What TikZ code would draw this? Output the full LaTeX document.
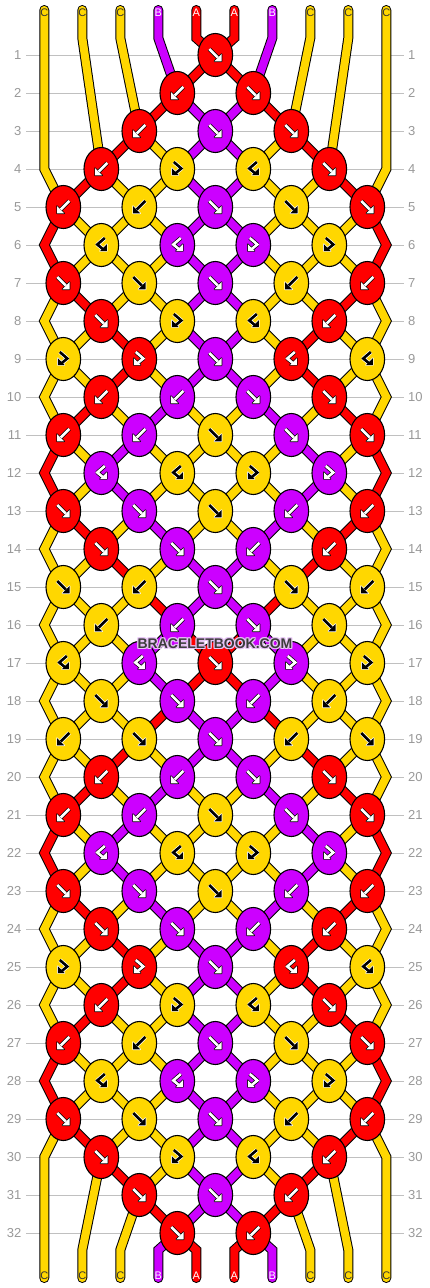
\documentclass[tikz,border=0pt]{standalone}
\usepackage{fontspec}
\setmainfont{Liberation Sans}
\definecolor{cY}{HTML}{FFD700}
\definecolor{cP}{HTML}{CC00FF}
\definecolor{cR}{HTML}{FF0000}
\definecolor{gridc}{HTML}{C0C0C0}
\definecolor{numc}{HTML}{999999}
\definecolor{labdark}{HTML}{333333}
\definecolor{wmark}{HTML}{3C3C3C}
\definecolor{whalo}{HTML}{E6C3F5}

\tikzset{
  strout/.style={draw=black, line width=10pt, line cap=round, line join=miter},
  strin/.style={line width=8pt, line cap=round, line join=miter},
  knotline/.style={draw=black, line width=1.1pt},
  gridline/.style={draw=gridc, line width=1pt},
  rownum/.style={text=numc, font=\fontsize{13}{13}\selectfont, inner sep=0pt},
  strlabel/.style={font=\fontsize{11}{11}\selectfont, inner sep=0pt},
  wm/.style={font=\bfseries\fontsize{14}{14}\selectfont, inner sep=0pt},
}

\newcommand\setsc[2]{\expandafter\gdef\csname sc#1\endcsname{#2}}
\newcommand\rowdef[2]{\expandafter\gdef\csname row#1\endcsname{#2}}
\newcommand\appendpt[3]{\expandafter\xdef\csname P#1\endcsname{\csname P#1\endcsname -- (#2,#3)}}

% type codes: 1 = forward, 2 = backward, 3 = forward-backward, 4 = backward-forward
\newcommand\doknot[3]{%
  \edef\idL{\csname at#2\endcsname}%
  \edef\idR{\csname at\the\numexpr#2+1\relax\endcsname}%
  \edef\kx{\fpeval{63.3+38*(#2-1)}}%
  \edef\ky{\fpeval{55+38*(#1-1)}}%
  \appendpt{\idL}{\kx}{\ky}%
  \appendpt{\idR}{\kx}{\ky}%
  \ifodd#3\relax
    \edef\kc{\csname sc\idL\endcsname}%
  \else
    \edef\kc{\csname sc\idR\endcsname}%
  \fi
  \xdef\knotlist{\unexpanded\expandafter{\knotlist}\noexpand\drawknot{\kx}{\ky}{\kc}{#3}}%
  \ifnum#3<3\relax
    \expandafter\xdef\csname at#2\endcsname{\idR}%
    \expandafter\xdef\csname at\the\numexpr#2+1\relax\endcsname{\idL}%
  \fi
}

\newcommand\knotglyph[3]{%
  \ifcase#1\relax\or
    \def\gshaft{(-6,-6) -- (2.5,2.5)}\def\ghead{(6.3,6.3) -- (6.3,-0.9) -- (-0.9,6.3) -- cycle}%
  \or
    \def\gshaft{(6,-6) -- (-2.5,2.5)}\def\ghead{(-6.3,6.3) -- (-6.3,-0.9) -- (0.9,6.3) -- cycle}%
  \or
    \def\gshaft{(-3.5,-7) -- (4,-0.5) -- (-1.5,4)}\def\ghead{(-5.5,6) -- (-5.5,-0.8) -- (1.3,6) -- cycle}%
  \or
    \def\gshaft{(3.5,-7) -- (-4,-0.5) -- (1.5,4)}\def\ghead{(5.5,6) -- (5.5,-0.8) -- (-1.3,6) -- cycle}%
  \fi
  \draw[draw=#3, line width=4pt, line join=round] \gshaft;
  \filldraw[draw=#3, fill=#3, line width=1.4pt, line join=round] \ghead;
  \draw[draw=#2, line width=2.6pt, line join=miter] \gshaft;
  \fill[#2] \ghead;
}

\newcommand\drawknot[4]{%
  \draw[knotline, fill=#3] (#1,#2) ellipse [x radius=17.3pt, y radius=21.5pt];
  \def\tmpc{#3}\def\tmpy{cY}%
  \begin{scope}[shift={(#1,#2)}]
    \ifx\tmpc\tmpy \knotglyph{#4}{black}{white}\else \knotglyph{#4}{white}{black}\fi
  \end{scope}
}

\setsc{1}{cY}\setsc{2}{cY}\setsc{3}{cY}\setsc{4}{cP}\setsc{5}{cR}
\setsc{6}{cR}\setsc{7}{cP}\setsc{8}{cY}\setsc{9}{cY}\setsc{10}{cY}

\rowdef{1}{5/1}
\rowdef{2}{4/2,6/1}
\rowdef{3}{3/2,5/1,7/1}
\rowdef{4}{2/2,4/3,6/4,8/1}
\rowdef{5}{1/2,3/2,5/1,7/1,9/1}
\rowdef{6}{2/4,4/4,6/3,8/3}
\rowdef{7}{1/1,3/1,5/1,7/2,9/2}
\rowdef{8}{2/1,4/3,6/4,8/2}
\rowdef{9}{1/3,3/3,5/1,7/4,9/4}
\rowdef{10}{2/2,4/2,6/1,8/1}
\rowdef{11}{1/2,3/2,5/1,7/1,9/1}
\rowdef{12}{2/4,4/4,6/3,8/3}
\rowdef{13}{1/1,3/1,5/1,7/2,9/2}
\rowdef{14}{2/1,4/1,6/2,8/2}
\rowdef{15}{1/1,3/2,5/1,7/1,9/2}
\rowdef{16}{2/2,4/2,6/1,8/1}
\rowdef{17}{1/4,3/4,5/1,7/3,9/3}
\rowdef{18}{2/1,4/1,6/2,8/2}
\rowdef{19}{1/2,3/1,5/1,7/2,9/1}
\rowdef{20}{2/2,4/2,6/1,8/1}
\rowdef{21}{1/2,3/2,5/1,7/1,9/1}
\rowdef{22}{2/4,4/4,6/3,8/3}
\rowdef{23}{1/1,3/1,5/1,7/2,9/2}
\rowdef{24}{2/1,4/1,6/2,8/2}
\rowdef{25}{1/3,3/3,5/1,7/4,9/4}
\rowdef{26}{2/2,4/3,6/4,8/1}
\rowdef{27}{1/2,3/2,5/1,7/1,9/1}
\rowdef{28}{2/4,4/4,6/3,8/3}
\rowdef{29}{1/1,3/1,5/1,7/2,9/2}
\rowdef{30}{2/1,4/3,6/4,8/2}
\rowdef{31}{3/1,5/1,7/2}
\rowdef{32}{4/1,6/2}

\begin{document}
\begin{tikzpicture}[x=1pt,y=-1pt]
\useasboundingbox (0,0) rectangle (430,1288);
\fill[white] (0,0) rectangle (430,1288);

% ---- simulation of the strings ----
\gdef\knotlist{}%
\foreach \j in {1,...,10}{%
  \expandafter\xdef\csname at\j\endcsname{\j}%
  \edef\xx{\fpeval{44.3+38*(\j-1)}}%
  \expandafter\xdef\csname P\j\endcsname{(\xx,10) -- (\xx,38)}%
}%
\foreach \rr in {1,...,32}{%
  \ifodd\rr\relax\else
    \edef\yy{\fpeval{55+38*(\rr-1)}}%
    \edef\idA{\csname at1\endcsname}\appendpt{\idA}{44.3}{\yy}%
    \edef\idB{\csname at10\endcsname}\appendpt{\idB}{386.3}{\yy}%
  \fi
  \expandafter\let\expandafter\ks\csname row\rr\endcsname
  \foreach \kk/\ty in \ks {\doknot{\rr}{\kk}{\ty}}%
}%
\foreach \j in {1,...,10}{%
  \edef\idj{\csname at\j\endcsname}%
  \edef\xx{\fpeval{44.3+38*(\j-1)}}%
  \appendpt{\idj}{\xx}{1250}%
  \appendpt{\idj}{\xx}{1278}%
}%

% ---- grid and row numbers ----
\foreach \rr in {1,...,32}{%
  \pgfmathsetmacro\yy{55+38*(\rr-1)}
  \node[rownum, anchor=east] (nl\rr) at (21.5,\yy) {\rr};
  \node[rownum, anchor=west] (nr\rr) at (408,\yy) {\rr};
  \draw[gridline] ([xshift=4.5pt]nl\rr.east) -- ([xshift=-4pt]nr\rr.west);
}

% ---- strings ----
\foreach \j in {1,...,10}{%
  \edef\pp{\csname P\j\endcsname}%
  \edef\strc{\csname sc\j\endcsname}%
  \draw[strout] \pp;
  \draw[strin, draw=\strc] \pp;
}

% ---- knots ----
\knotlist

% ---- string labels ----
\foreach \j/\L/\lc in {1/C/labdark,2/C/labdark,3/C/labdark,4/B/white,5/A/white,6/A/white,7/B/white,8/C/labdark,9/C/labdark,10/C/labdark}{%
  \pgfmathsetmacro\xx{44.3+38*(\j-1)}
  \node[strlabel, text=\lc] (top\j) at (\xx,13) {\L};
  \node[strlabel, text=\lc] (bot\j) at (\xx,1276) {\L};
}

% ---- watermark ----
\foreach \dx/\dy [count=\i] in {-1/-1,0/-1,1/-1,-1/0,1/0,-1/1,0/1,1/1}{%
  \node[wm, text=whalo] (wmh\i) at (215+\dx,644+\dy) {BRACELETBOOK.COM};
}
\node[wm, text=wmark] (wmain) at (215,644) {BRACELETBOOK.COM};
\end{tikzpicture}
\end{document}
